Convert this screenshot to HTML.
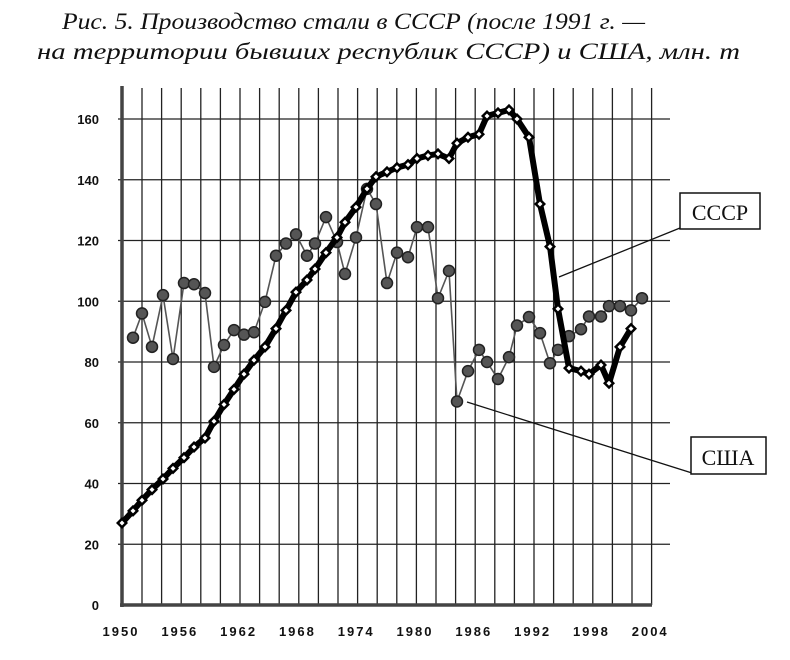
<!DOCTYPE html>
<html><head><meta charset="utf-8"><style>
html,body{margin:0;padding:0;background:#fff;}
svg{display:block;}
</style></head><body>
<svg width="790" height="660" viewBox="0 0 790 660" xmlns="http://www.w3.org/2000/svg">
<rect width="790" height="660" fill="#fff"/>
<text x="62" y="29" font-family="Liberation Serif, serif" font-style="italic" font-size="23" textLength="583" lengthAdjust="spacingAndGlyphs" fill="#111">Рис. 5. Производство стали в СССР (после 1991 г. —</text>
<text x="37" y="59" font-family="Liberation Serif, serif" font-style="italic" font-size="23" textLength="703" lengthAdjust="spacingAndGlyphs" fill="#111">на территории бывших республик СССР) и США, млн. т</text>
<g id="grid" stroke="#222" stroke-width="1.3"></g>
<g id="series"></g>
<g font-family="Liberation Sans, sans-serif" font-weight="bold" font-size="13" fill="#111" text-anchor="end" id="ylab"></g>
<g font-family="Liberation Sans, sans-serif" font-weight="bold" font-size="13" fill="#111" text-anchor="middle" letter-spacing="2" id="xlab"></g>
<line x1="559" y1="277" x2="680" y2="228" stroke="#111" stroke-width="1.3"/>
<line x1="467" y1="402" x2="692" y2="473" stroke="#111" stroke-width="1.3"/>
<rect x="680" y="193" width="80" height="36" fill="#fff" stroke="#111" stroke-width="1.5"/>
<text x="720" y="220" font-family="Liberation Serif, serif" font-size="22" text-anchor="middle" fill="#111">СССР</text>
<rect x="691" y="437" width="75" height="37" fill="#fff" stroke="#111" stroke-width="1.5"/>
<text x="728" y="465" font-family="Liberation Serif, serif" font-size="22" text-anchor="middle" fill="#111">США</text>
</svg>
<script>
var NS="http://www.w3.org/2000/svg";
function el(p,t,a){var e=document.createElementNS(NS,t);for(var k in a)e.setAttribute(k,a[k]);p.appendChild(e);return e;}
var g=document.getElementById('grid'),s=document.getElementById('series'),yl=document.getElementById('ylab'),xl=document.getElementById('xlab');
function Y(v){return 605-v*3.0375;}
for(var v=20;v<=160;v+=20){el(g,'line',{x1:118,y1:Y(v),x2:670,y2:Y(v)});}
for(var k=0;k<=26;k++){var x=142+19.6*k;el(g,'line',{x1:x,y1:88,x2:x,y2:605});}
el(g,'line',{x1:122,y1:86,x2:122,y2:607,'stroke-width':3.5,stroke:'#444'});
el(g,'line',{x1:120,y1:605,x2:652,y2:605,'stroke-width':3.5,stroke:'#444'});
for(var v=0;v<=160;v+=20){var t=el(yl,'text',{x:99,y:Y(v)+5});t.textContent=v;}
for(var k=0;k<=9;k++){var t=el(xl,'text',{x:121+58.8*k,y:636});t.textContent=1950+6*k;}
var X=[122,133,142,152,163,173,184,194,205,214,224,234,244,254,265,276,286,296,307,315,326,337,345,356,367,376,387,397,408,417,428,438,449,457,468,479,487,498,509,517,529,540,550,558,569,581,589,601,609,620,631,642];
var US=[null,88,96,85,102,81,106,105.6,102.7,78.4,85.6,90.5,89,89.8,99.8,115,119,122,115,119,127.7,119.5,109,121,137,132,106,116,114.5,124.4,124.4,101,110,67,77,84,80,74.4,81.6,92,94.8,89.5,79.6,84,88.5,90.8,95,95,98.4,98.4,97,101];
var SU=[27,31,34.5,38,41.5,45,48.5,52,55,60.5,66,71,76,80.6,85,91,97,103,107,110.6,116,121,126,131,137,141,142.6,144,145,147,148,148.5,147,152,154,155,161,162,163,160,154,132,118,97.5,78,77,76,79,73,85,91];
var p=[];for(var i=1;i<US.length;i++)p.push(X[i]+','+Y(US[i]));
el(s,'polyline',{points:p.join(' '),fill:'none',stroke:'#555','stroke-width':1.6});
for(var i=1;i<US.length;i++)el(s,'circle',{cx:X[i],cy:Y(US[i]),r:5.5,fill:'#555',stroke:'#222','stroke-width':1.5});
p=[];for(var i=0;i<SU.length;i++)p.push(X[i]+','+Y(SU[i]));
el(s,'polyline',{points:p.join(' '),fill:'none',stroke:'#000','stroke-width':6,'stroke-linejoin':'round'});
for(var i=0;i<SU.length;i++){var x=X[i],y=Y(SU[i]);
el(s,'polygon',{points:(x)+','+(y-6)+' '+(x+6)+','+y+' '+x+','+(y+6)+' '+(x-6)+','+y,fill:'#000'});
el(s,'polygon',{points:(x)+','+(y-2.5)+' '+(x+2.5)+','+y+' '+x+','+(y+2.5)+' '+(x-2.5)+','+y,fill:'#fff'});}
</script>
</body></html>
